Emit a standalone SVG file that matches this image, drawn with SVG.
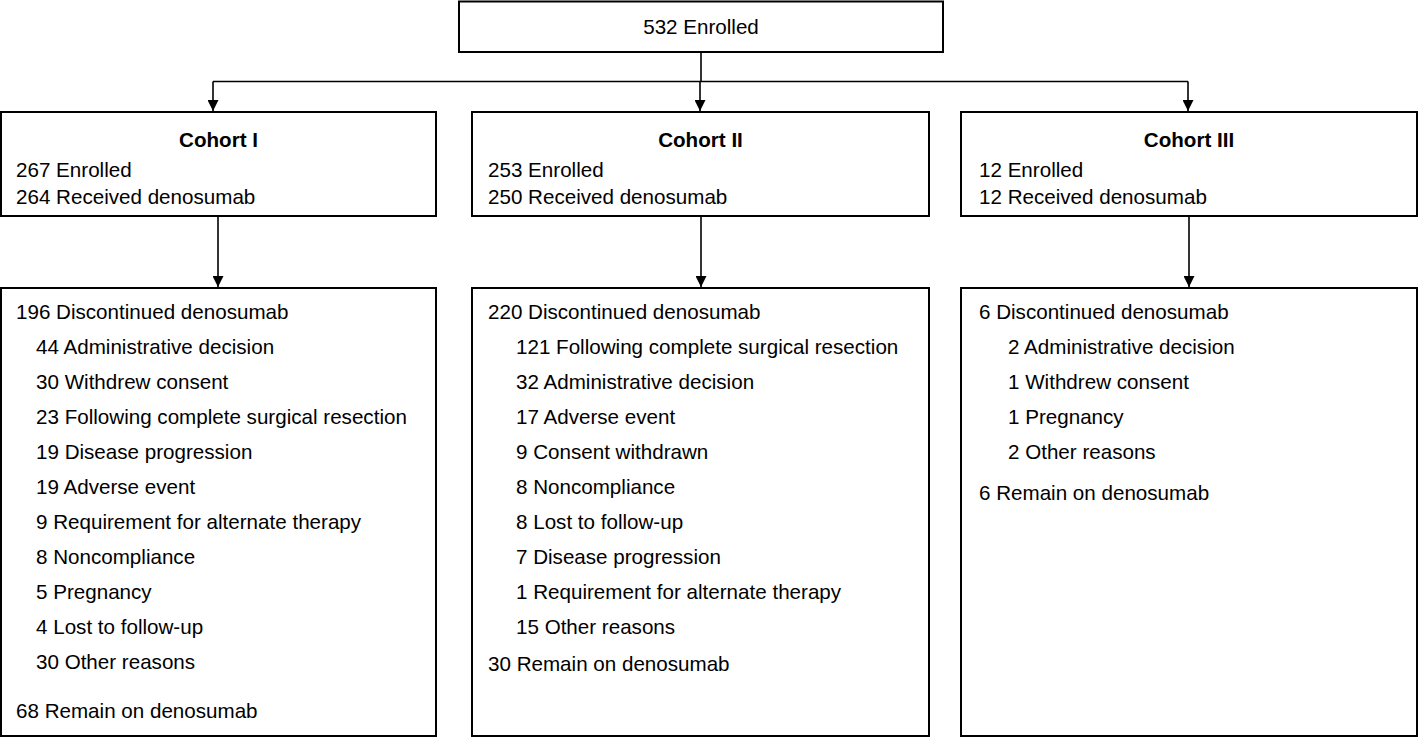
<svg xmlns="http://www.w3.org/2000/svg" width="1418" height="737" viewBox="0 0 1418 737">
<style>
  .box { fill: #ffffff; stroke: #000000; stroke-width: 2; }
  .conn { fill: none; stroke: #000000; stroke-width: 1.6; }
  text { font-family: "Liberation Sans", Arial, Helvetica, sans-serif; font-size: 20.6px; fill: #000000; }
  .title { font-weight: bold; text-anchor: middle; }
  .mid { text-anchor: middle; }
</style>
<defs>
  <marker id="arrow" markerUnits="userSpaceOnUse" markerWidth="12" markerHeight="11" refX="11" refY="5.5" orient="auto">
    <path d="M0,0 L11,5.5 L0,11 Z" fill="#000000"/>
  </marker>
</defs>
<rect width="1418" height="737" fill="#ffffff"/>

<g id="connectors">
  <path class="conn" d="M701,52 V81.5"/>
  <path class="conn" d="M213,81.5 H1188"/>
  <path class="conn" d="M213,81.5 V111" marker-end="url(#arrow)"/>
  <path class="conn" d="M700,81.5 V111" marker-end="url(#arrow)"/>
  <path class="conn" d="M1188,81.5 V111" marker-end="url(#arrow)"/>
  <path class="conn" d="M218,216 V287" marker-end="url(#arrow)"/>
  <path class="conn" d="M701,216 V287" marker-end="url(#arrow)"/>
  <path class="conn" d="M1189,216 V287" marker-end="url(#arrow)"/>
</g>

<g id="node-enrolled">
  <rect class="box" x="459" y="1.5" width="484" height="50.5"/>
  <text class="mid" x="701" y="33.5">532 Enrolled</text>
</g>

<g id="node-cohort1">
  <rect class="box" x="1" y="112" width="435" height="104"/>
  <text class="title" x="218.5" y="146.5">Cohort I</text>
  <text x="16" y="176.5">267 Enrolled</text>
  <text x="16" y="204">264 Received denosumab</text>
</g>

<g id="node-cohort2">
  <rect class="box" x="472" y="112" width="457" height="104"/>
  <text class="title" x="700.5" y="146.5">Cohort II</text>
  <text x="488" y="176.5">253 Enrolled</text>
  <text x="488" y="204">250 Received denosumab</text>
</g>

<g id="node-cohort3">
  <rect class="box" x="961" y="112" width="456" height="104"/>
  <text class="title" x="1189" y="146.5">Cohort III</text>
  <text x="979" y="176.5">12 Enrolled</text>
  <text x="979" y="204">12 Received denosumab</text>
</g>

<g id="node-outcome1">
  <rect class="box" x="1" y="288" width="435" height="448"/>
  <text x="16" y="319">196 Discontinued denosumab</text>
  <text x="36" y="354">44 Administrative decision</text>
  <text x="36" y="389">30 Withdrew consent</text>
  <text x="36" y="424">23 Following complete surgical resection</text>
  <text x="36" y="459">19 Disease progression</text>
  <text x="36" y="494">19 Adverse event</text>
  <text x="36" y="529">9 Requirement for alternate therapy</text>
  <text x="36" y="564">8 Noncompliance</text>
  <text x="36" y="599">5 Pregnancy</text>
  <text x="36" y="634">4 Lost to follow-up</text>
  <text x="36" y="669">30 Other reasons</text>
  <text x="16" y="718">68 Remain on denosumab</text>
</g>

<g id="node-outcome2">
  <rect class="box" x="472" y="288" width="457" height="448"/>
  <text x="488" y="319">220 Discontinued denosumab</text>
  <text x="516" y="354">121 Following complete surgical resection</text>
  <text x="516" y="389">32 Administrative decision</text>
  <text x="516" y="424">17 Adverse event</text>
  <text x="516" y="459">9 Consent withdrawn</text>
  <text x="516" y="494">8 Noncompliance</text>
  <text x="516" y="529">8 Lost to follow-up</text>
  <text x="516" y="564">7 Disease progression</text>
  <text x="516" y="599">1 Requirement for alternate therapy</text>
  <text x="516" y="634">15 Other reasons</text>
  <text x="488" y="671">30 Remain on denosumab</text>
</g>

<g id="node-outcome3">
  <rect class="box" x="961" y="288" width="456" height="448"/>
  <text x="979" y="319">6 Discontinued denosumab</text>
  <text x="1008" y="354">2 Administrative decision</text>
  <text x="1008" y="389">1 Withdrew consent</text>
  <text x="1008" y="424">1 Pregnancy</text>
  <text x="1008" y="459">2 Other reasons</text>
  <text x="979" y="500">6 Remain on denosumab</text>
</g>
</svg>
